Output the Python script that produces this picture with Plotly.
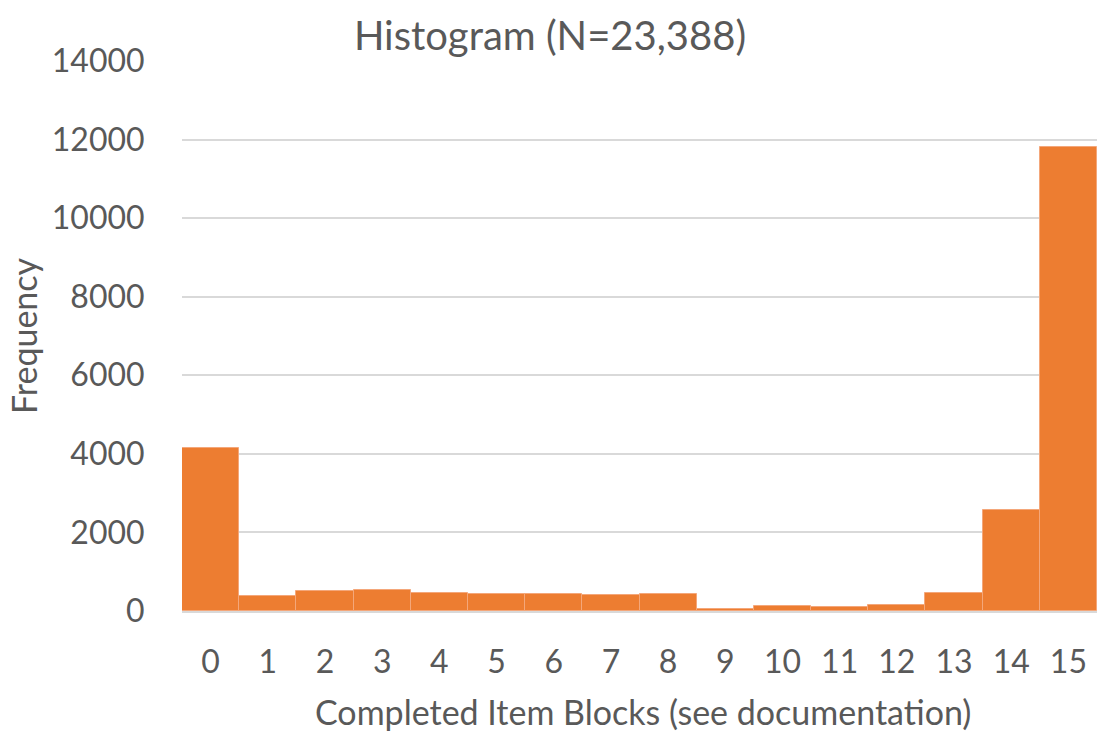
import plotly.graph_objects as go

categories = [str(i) for i in range(16)]
frequency = [4160, 390, 508, 534, 452, 440, 440, 397, 440, 55, 127, 92, 142, 465, 2560, 11800]
y_ticks = [0, 2000, 4000, 6000, 8000, 10000, 12000, 14000]
y_tick_text = [str(v) for v in y_ticks]

FONT = "Lato"
GREY = "#595959"

fig = go.Figure(
    go.Bar(
        x=categories,
        y=frequency,
        marker=dict(color="#ED7D31", line=dict(color="#F4A77A", width=1)),
    )
)

fig.update_layout(
    width=1097,
    height=731,
    margin=dict(l=182, r=0, t=61, b=120, autoexpand=False),
    paper_bgcolor="white",
    plot_bgcolor="white",
    bargap=0,
    showlegend=False,
    font=dict(family=FONT, color=GREY),
    title=dict(
        text="Histogram (N=23,388)",
        font=dict(family=FONT, size=40, color=GREY),
        x=550 / 1097,
        xref="container",
        xanchor="center",
        y=1 - 36 / 731,
        yref="container",
        yanchor="middle",
    ),
    annotations=[
        dict(
            text="Frequency", xref="paper", yref="paper",
            x=(23 - 182) / 915, y=0.5, xanchor="center", yanchor="middle",
            textangle=-90, showarrow=False, font=dict(size=34, color=GREY),
        ),
        dict(
            text="Completed Item Blocks (see documentation)", xref="paper", yref="paper",
            x=(642.5 - 182) / 915, y=(611 - 711) / 550, xanchor="center", yanchor="middle",
            showarrow=False, font=dict(size=34, color=GREY),
        ),
    ],
)

fig.update_xaxes(
    type="category",
    automargin=False,
    tickfont=dict(size=32, color=GREY),
    ticks="outside",
    ticklen=22,
    tickcolor="rgba(0,0,0,0)",
    showline=True,
    linecolor="#D9D9D9",
    linewidth=2,
)

fig.update_yaxes(
    automargin=False,
    range=[0, 14000],
    tickvals=y_ticks,
    ticktext=y_tick_text,
    tickfont=dict(size=32, color=GREY),
    showgrid=True,
    gridcolor="#D9D9D9",
    gridwidth=2,
    zeroline=False,
    ticks="outside",
    ticklen=30,
    tickcolor="rgba(0,0,0,0)",
)

fig.write_html(
    "out.html",
    config={"displayModeBar": False},
    post_script="document.body.style.margin='0';document.body.style.overflow='hidden';",
)
